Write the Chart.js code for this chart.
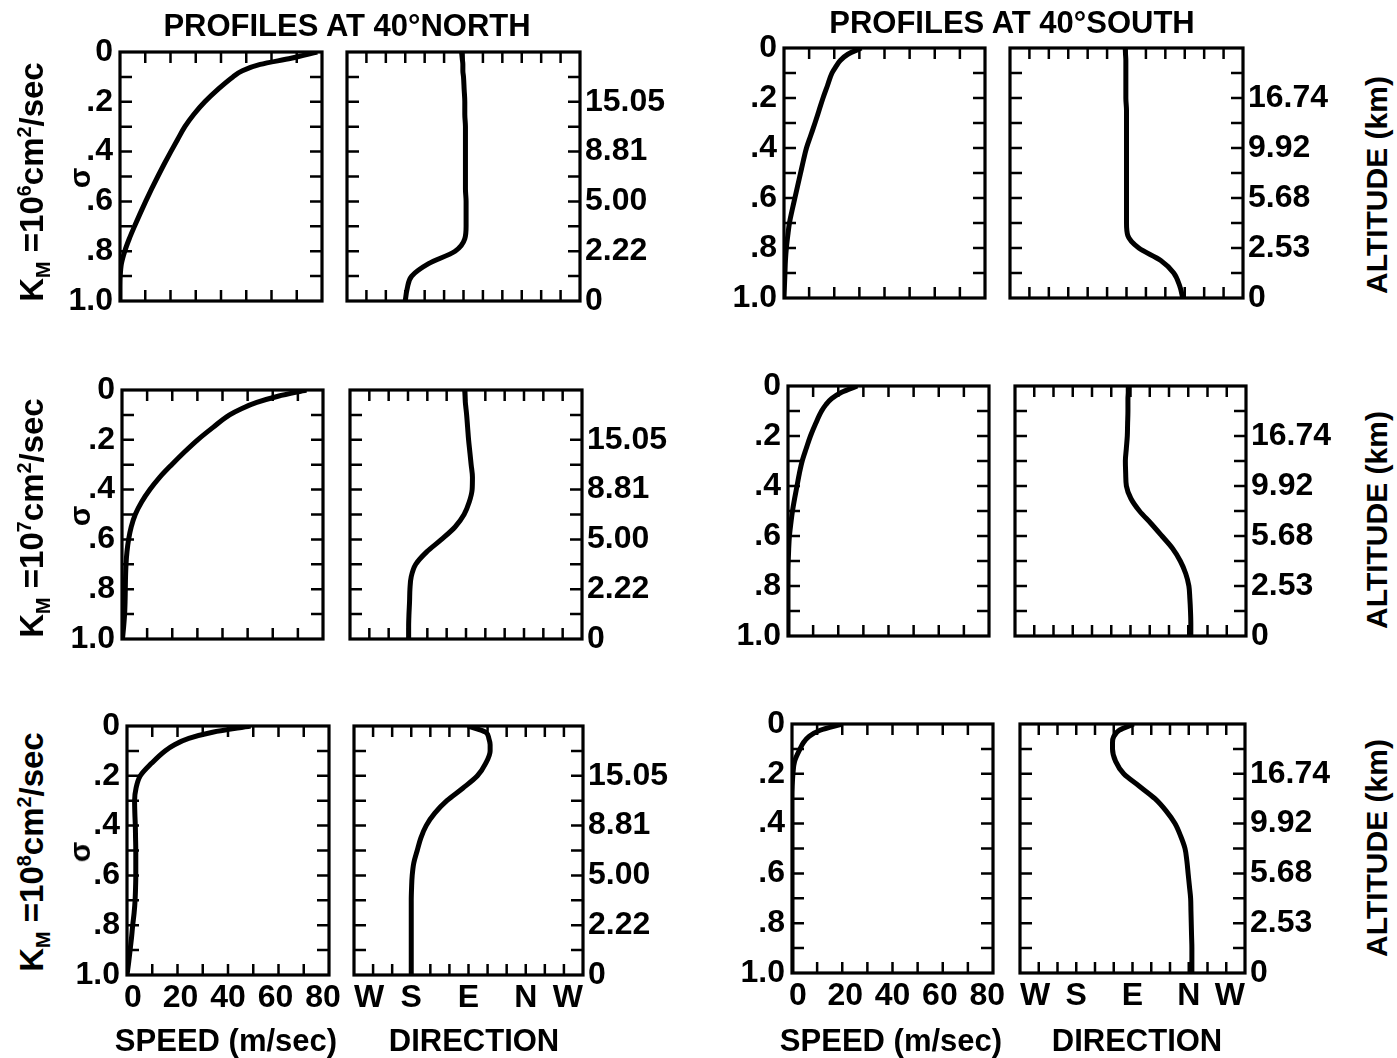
<!DOCTYPE html>
<html><head><meta charset="utf-8">
<script src="https://cdn.jsdelivr.net/npm/chart.js@4.4.0/dist/chart.umd.min.js"></script>
<style>
html,body{margin:0;padding:0;background:#fff}
body{width:1397px;height:1058px;position:relative;overflow:hidden;color:#000;
 font-family:'Liberation Sans Narrow','Arial Narrow','Liberation Sans',Arial,sans-serif;font-weight:bold}
canvas{position:absolute}
.t{position:absolute;white-space:nowrap;font-weight:bold;line-height:1}
.rot{transform:translate(-50%,-50%) rotate(-90deg)}
.ctr{transform:translate(-50%,-50%)}
sup,sub{font-size:60%;line-height:0}
</style></head><body>
<script>
// ---------------- DATA ----------------
const sigmaLevels = [0,0.025,0.05,0.075,0.1,0.15,0.2,0.25,0.3,0.35,0.4,0.45,0.5,0.55,0.6,0.65,0.7,0.75,0.8,0.85,0.9,0.95,1.0];

// 40 N
const speedN6 = [83,72,59,51.5,47.5,41.2,35.7,31.1,27.3,24.3,21.4,18.6,15.9,13.3,10.8,8.4,6.1,3.9,2.0,0.6,0.1,0,0];
const dirN6   = [177,178,179,179,180,181,182,182,183,183,183,183,183,183,184,184,184,182,167,126,100,93,90];
const speedN7 = [78,66,57,50.5,45.5,38.5,32,26.3,21,16,11.8,8.3,5.6,3.9,2.8,2.1,1.7,1.5,1.4,1.3,1.1,0.7,0.2];
const dirN7   = [178,178.5,179,180,181,182.5,184,186,188,190,189.5,185,177,163,142,119,102,95,93,92.4,91.5,91,91];
const speedN8 = [52,36,26,20,16,10.3,5.6,3.8,3.2,3.3,3.5,3.6,3.7,3.7,3.7,3.6,3.4,3,2.4,1.9,1.3,0.7,0];
const dirN8   = [179,207,212,214,214,207,194,171,146,127,113.5,105,99.4,94,91.5,90.5,90,90,90,90,90,90,90];

// 40 S
const speedS6 = [32.7,27,23.8,21.9,20.3,18.4,16.5,14.8,13.1,11.3,9.5,8.2,7,5.8,4.6,3.4,2.3,1.6,1,0.6,0.4,0.2,0];
const dirS6   = [178,178.5,179,179,179,179,179,180,180,180,180,180,180,180,180,180,180,182,199,233,253,262,267];
const speedS7 = [29.3,22.7,18.5,16,14.2,11.7,9.5,7.7,6,4.8,3.8,2.8,1.9,1.2,0.6,0.3,0.1,0,0,0,0,0,0];
const dirS7   = [176.5,176.5,176,176,176,175.5,175,173.5,172,172.5,173.6,180.6,194,212,229,245.6,257.6,266,271,272.5,273.5,274,274];
const speedS8 = [21.4,11.9,7.2,4.8,3.4,1.1,0.4,0.1,0,0,0,0,0,0,0,0,0,0,0,0,0,0,0];
const dirS8   = [182,159,150,148,148,153,166,191,216,234,248,257,264,267,269,271,273,273.5,274,274.5,275,275,275];

// tick labels
const sigmaTickValues = [0,0.2,0.4,0.6,0.8,1.0];
const sigmaTickLabels = ['0','.2','.4','.6','.8','1.0'];
const altitudeTickValues = [0.2,0.4,0.6,0.8,1.0];
const altitudeNorth = ['15.05','8.81','5.00','2.22','0'];
const altitudeSouth = ['16.74','9.92','5.68','2.53','0'];
const speedTickValues = [0,20,40,60,80];
const speedTickLabels = ['0','20','40','60','80'];
const directionTickValues = [0,90,180,270,360];
const directionTickLabels = ['W','S','E','N','W'];
const kmExponents = ['6','7','8'];

const SPEED_MAX = 85, DIR_MAX = 360;

// ---------------- LAYOUT ----------------
const boxes = {
  N:{speed:[[120,52,202,249],[122,390,201,249],[127,726,202,249]],
     dir:  [[347,52,233,249],[350,390,232,249],[354,726,229,249]]},
  S:{speed:[[784,48,201,250],[788,386,201,250],[792,724,201,249]],
     dir:  [[1010,48,233,250],[1015,386,231,250],[1020,724,225,249]]}
};
const FONT = "'Liberation Sans Narrow','Arial Narrow','Liberation Sans',Arial,sans-serif";
Chart.defaults.font.family = FONT;
Chart.defaults.font.weight = 'bold';
Chart.defaults.color = '#000';

const framePlugin = {
  id:'frame',
  afterDatasetsDraw(chart, args, o){
    const {ctx, chartArea:a, scales} = chart;
    const xs = scales.x, ys = scales.y;
    ctx.save();
    ctx.strokeStyle = '#000';
    ctx.lineCap = 'butt';
    ctx.lineWidth = 2.5;
    ctx.beginPath();
    o.xMinor.forEach(v=>{
      const px = xs.getPixelForValue(v);
      ctx.moveTo(px, a.bottom); ctx.lineTo(px, a.bottom - 11);
      ctx.moveTo(px, a.top); ctx.lineTo(px, a.top + 11);
    });
    o.yMinor.forEach(v=>{
      const py = ys.getPixelForValue(v);
      ctx.moveTo(a.left, py); ctx.lineTo(a.left + 12, py);
      ctx.moveTo(a.right, py); ctx.lineTo(a.right - 12, py);
    });
    ctx.stroke();
    ctx.lineWidth = 3.2;
    ctx.strokeRect(a.left, a.top, a.right - a.left, a.bottom - a.top);
    ctx.restore();
  }
};

function minorTicks(max, n){ const r=[]; for(let i=1;i<n;i++) r.push(max*i/n); return r; }
const sigmaMinor = minorTicks(1,10);
function noPad(s){ s.paddingTop = 0; s.paddingBottom = 0; s.paddingLeft = 0; s.paddingRight = 0; }

function makeChart(box, kind, values, hemi, row){
  const [bx,by,bw,bh] = box;
  const isSpeed = kind === 'speed';
  const bottomRow = row === 2;
  const padL = isSpeed ? 70 : 6;
  const padR = isSpeed ? 18 : 110;
  const padT = 22;
  const padB = bottomRow ? 50 : 22;
  const cv = document.createElement('canvas');
  cv.width = padL + bw + padR; cv.height = padT + bh + padB;
  cv.style.left = (bx - padL) + 'px'; cv.style.top = (by - padT) + 'px';
  document.body.appendChild(cv);
  const pts = sigmaLevels.map((s,i)=>({x: values[i], y: s}));
  const tickFont = {family: FONT, size: 32, weight: 'bold'};
  const scales = {
    x: {
      type:'linear', min:0, max: isSpeed ? SPEED_MAX : DIR_MAX,
      display: bottomRow,
      grid:{display:false, drawTicks:false}, border:{display:false},
      afterBuildTicks: s => { s.ticks = (isSpeed ? speedTickValues : directionTickValues).map(v=>({value:v})); },
      afterFit: s => { s.height = bottomRow ? padB : 0; noPad(s); },
      ticks:{
        autoSkip:false, maxRotation:0, padding:4, font: tickFont,
        align: isSpeed ? 'center' : 'inner',
        labelOffset: isSpeed ? 6 : 0,
        callback: (v,i) => isSpeed ? speedTickLabels[i] : directionTickLabels[i]
      }
    },
    y: {
      type:'linear', min:0, max:1, reverse:true,
      display: isSpeed,
      grid:{display:false, drawTicks:false}, border:{display:false},
      afterBuildTicks: s => { s.ticks = sigmaTickValues.map(v=>({value:v})); },
      afterFit: s => { s.width = isSpeed ? padL : 0; noPad(s); },
      ticks:{ autoSkip:false, padding:7, font: tickFont, callback:(v,i)=>sigmaTickLabels[i] }
    }
  };
  if (!isSpeed) {
    const alt = hemi === 'N' ? altitudeNorth : altitudeSouth;
    scales.yR = {
      type:'linear', position:'right', min:0, max:1, reverse:true,
      grid:{display:false, drawTicks:false}, border:{display:false},
      afterBuildTicks: s => { s.ticks = altitudeTickValues.map(v=>({value:v})); },
      afterFit: s => { s.width = padR; noPad(s); },
      ticks:{ autoSkip:false, padding:5, font: tickFont, callback:(v,i)=>alt[i] }
    };
  }
  new Chart(cv, {
    type:'line',
    data:{ datasets:[{ data: pts, borderColor:'#000', borderWidth:5, pointRadius:0,
      cubicInterpolationMode:'monotone', fill:false, yAxisID:'y' }] },
    options:{
      responsive:false, animation:false, devicePixelRatio:1,
      indexAxis:'y',
      layout:{ padding:{ left: isSpeed ? 0 : padL, right: isSpeed ? padR : 0, top: padT, bottom: bottomRow ? 0 : padB } },
      plugins:{ legend:{display:false}, tooltip:{enabled:false},
        frame:{ xMinor: isSpeed ? minorTicks(SPEED_MAX,8) : minorTicks(DIR_MAX,12), yMinor: sigmaMinor } },
      scales
    },
    plugins:[framePlugin]
  });
}

const series = {
  N:{speed:[speedN6,speedN7,speedN8], dir:[dirN6,dirN7,dirN8]},
  S:{speed:[speedS6,speedS7,speedS8], dir:[dirS6,dirS7,dirS8]}
};
['N','S'].forEach(h=>{
  for(let r=0;r<3;r++){
    makeChart(boxes[h].speed[r],'speed',series[h].speed[r],h,r);
    makeChart(boxes[h].dir[r],'dir',series[h].dir[r],h,r);
  }
});

// ---------------- TEXT ----------------
function addText(html, x, y, size, cls){
  const d = document.createElement('div');
  d.className = 't ' + cls;
  d.style.left = x + 'px'; d.style.top = y + 'px'; d.style.fontSize = size + 'px';
  d.innerHTML = html;
  document.body.appendChild(d);
}
addText('PROFILES AT 40°NORTH', 347, 25, 31, 'ctr');
addText('PROFILES AT 40°SOUTH', 1012, 22, 31, 'ctr');
const rowMid = [182, 518, 852];
const sigMid = [178, 516, 852];
const altMid = [185, 520, 848];
kmExponents.forEach((e,i)=>{
  addText('K<sub>M</sub> =10<sup>'+e+'</sup>cm<sup>2</sup>/sec', 31, rowMid[i], 33, 'rot');
  addText('σ', 80, sigMid[i], 30, 'rot');
  addText('ALTITUDE (km)', 1377, altMid[i], 30, 'rot');
});
addText('SPEED (m/sec)', 226, 1040, 31, 'ctr');
addText('DIRECTION', 474, 1040, 31, 'ctr');
addText('SPEED (m/sec)', 891, 1040, 31, 'ctr');
addText('DIRECTION', 1137, 1040, 31, 'ctr');
</script>
</body></html>
